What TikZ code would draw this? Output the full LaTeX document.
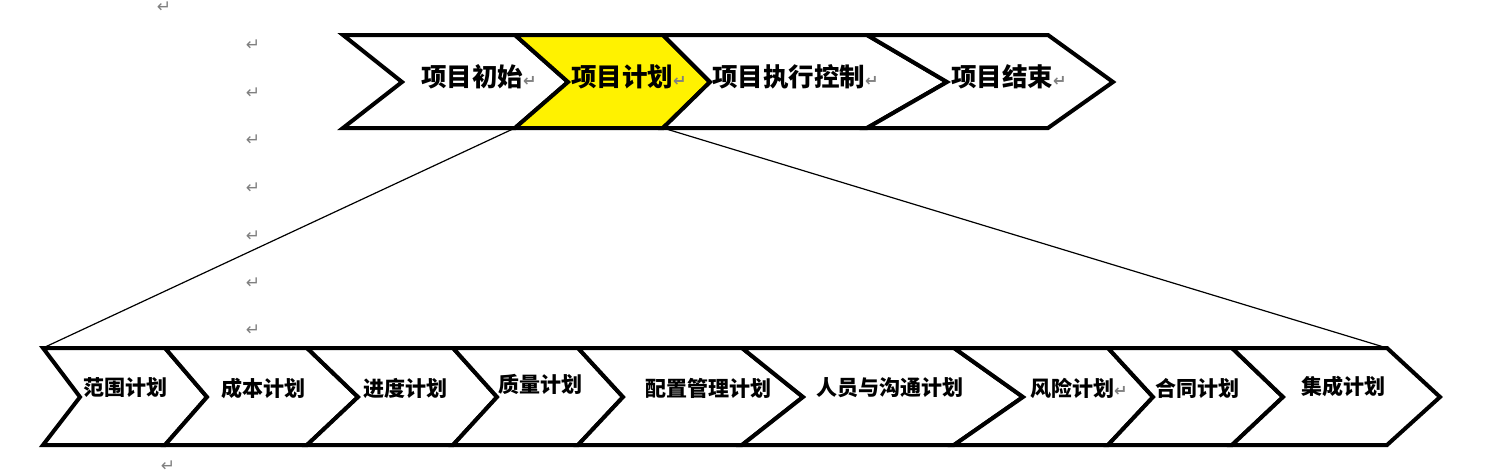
\documentclass[tikz,border=0pt]{standalone}
\usepackage{fontspec}
\newfontfamily\cjk{Noto Sans CJK SC}
\newfontfamily\symf{DejaVu Sans}
\newcommand{\retmark}{{\symf\color{gray}\fontsize{16}{16}\selectfont ↵}}

\begin{document}
\begin{tikzpicture}[x=1pt,y=-1pt,
  stage/.style={draw,line width=4pt,line join=miter},
  toplbl/.style={anchor=west,inner sep=0pt,font=\cjk\bfseries\fontsize{25.5}{25.5}\selectfont},
  sublbl/.style={anchor=west,inner sep=0pt,font=\cjk\bfseries\fontsize{21}{21}\selectfont},
  ret/.style={inner sep=0pt,text=gray,font=\symf\fontsize{17}{17}\selectfont},
  zoomline/.style={draw,line width=1.2pt}]
\useasboundingbox (0,0) rectangle (1500,474);
\foreach \l/\n/\r/\t/\c [count=\i] in {343/402/515/568/white, 515/568/663/710/yellow, 663/710/867/947/white, 867/947/1048/1113/white}
  \draw[stage,fill=\c] (\l,35) coordinate (t\i-a) -- (\r,35) -- (\t,82) -- (\r,128) coordinate (t\i-b) -- (\l,128) coordinate (t\i-c) -- (\n,82) -- cycle;
\node[toplbl] (p1) at (421,77) {项目初始\retmark};
\node[toplbl] (p2) at (571,77) {项目计划\retmark};
\node[toplbl] (p3) at (712,77) {项目执行控制\retmark};
\node[toplbl] (p4) at (951,77) {项目结束\retmark};
\foreach \l/\n/\r/\t [count=\i] in {43/80/165/207, 165/207/307/358, 307/358/453/497, 453/497/578/623, 578/623/742/803, 742/803/954/1023, 954/1023/1108/1153, 1108/1153/1232/1283, 1232/1283/1387/1440}
  \draw[stage,fill=white] (\l,348) coordinate (b\i-a) -- (\r,348) coordinate (b\i-b) -- (\t,397) -- (\r,445) -- (\l,445) -- (\n,397) -- cycle;
\node[sublbl] (s1) at (83,388) {范围计划};
\node[sublbl] (s2) at (221,388) {成本计划};
\node[sublbl] (s3) at (363,388) {进度计划};
\node[sublbl] (s4) at (498,384) {质量计划};
\node[sublbl] (s5) at (645,388) {配置管理计划};
\node[sublbl] (s6) at (816,388) {人员与沟通计划};
\node[sublbl] (s7) at (1030,388) {风险计划\retmark};
\node[sublbl] (s8) at (1155,388) {合同计划};
\node[sublbl] (s9) at (1301,386) {集成计划};
\draw[zoomline] (t2-c) -- (b1-a);
\draw[zoomline] (t2-b) -- (b9-b);
\foreach \y [count=\i] in {45,93,140,188,236,283,330}
  \node[ret] (r\i) at (253,\y) {↵};
\node[ret] (r0) at (164,7) {↵};
\node[ret] (r8) at (168,466) {↵};
\end{tikzpicture}
\end{document}
